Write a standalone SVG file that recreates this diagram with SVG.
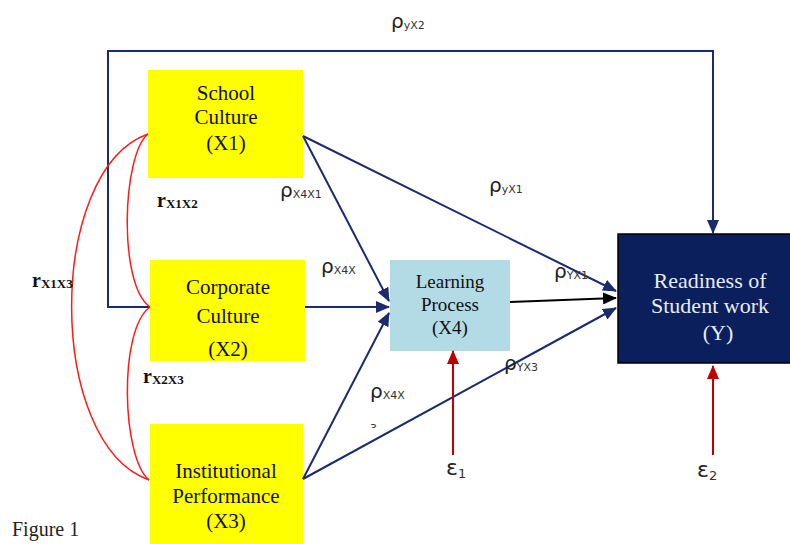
<svg xmlns="http://www.w3.org/2000/svg" width="790" height="544" viewBox="0 0 790 544">
<style>
.box{font-family:"Liberation Serif","Times New Roman",serif;font-size:21px;fill:#111;text-anchor:middle}
.yt{font-family:"Liberation Serif","Times New Roman",serif;font-size:22px;fill:#e8ecf4;text-anchor:middle}
.rho{font-family:"DejaVu Sans",Verdana,sans-serif;font-size:20px;fill:#222}
.sub{font-family:"DejaVu Sans",Verdana,sans-serif;font-size:11px;fill:#333}
.rl{font-family:"Liberation Serif","Times New Roman",serif;font-size:20px;font-weight:bold;fill:#111}
.rs{font-family:"Liberation Serif","Times New Roman",serif;font-size:13px;font-weight:bold;fill:#111}
.blue{stroke:#1b2c6e;stroke-width:2;fill:none}
.red{stroke:#ff1a1a;stroke-width:1.5;fill:none}
.err{stroke:#c00000;stroke-width:2;fill:none}
</style>
<defs>
<marker id="ab" markerWidth="14" markerHeight="12" refX="13" refY="6" orient="auto" markerUnits="userSpaceOnUse"><path d="M0,0 L14,6 L0,12 z" fill="#1b2c6e"/></marker>
<marker id="ak" markerWidth="14" markerHeight="12" refX="13" refY="6" orient="auto" markerUnits="userSpaceOnUse"><path d="M0,0 L14,6 L0,12 z" fill="#000"/></marker>
<marker id="ar" markerWidth="14" markerHeight="12" refX="13" refY="6" orient="auto" markerUnits="userSpaceOnUse"><path d="M0,0 L14,6 L0,12 z" fill="#c00000"/></marker>
<clipPath id="cx2"><rect x="150" y="260" width="155" height="101"/></clipPath>
<clipPath id="c2"><rect x="310" y="280" width="30" height="18"/></clipPath>
<clipPath id="c3"><rect x="360" y="405" width="30" height="23"/></clipPath>
</defs>
<rect width="790" height="544" fill="#fff"/>

<g id="X1">
<rect x="148" y="70" width="155" height="108" fill="#ffff00"/>
<text class="box" x="226" y="100">School</text>
<text class="box" x="226" y="124">Culture</text>
<text class="box" x="226" y="150">(X1)</text>
</g>
<g id="X2">
<rect x="150" y="260" width="155" height="101" fill="#ffff00"/>
<text class="box" x="228" y="294">Corporate</text>
<text class="box" x="228" y="323">Culture</text>
<text class="box" x="228" y="356" clip-path="url(#cx2)">(X2)</text>
</g>
<g id="X3">
<rect x="150" y="424" width="153" height="120" fill="#ffff00"/>
<text class="box" x="226" y="478">Institutional</text>
<text class="box" x="226" y="503">Performance</text>
<text class="box" x="226" y="528">(X3)</text>
</g>
<g id="X4">
<rect x="390" y="260" width="120" height="91" fill="#b3dbe6"/>
<text class="box" x="450" y="288" style="font-size:19px">Learning</text>
<text class="box" x="450" y="311" style="font-size:19px">Process</text>
<text class="box" x="450" y="334" style="font-size:19px">(X4)</text>
</g>
<g id="Y">
<rect x="618" y="234" width="175" height="129" fill="#0a1f5c" stroke="#000" stroke-width="1.5"/>
<text class="yt" x="710" y="288">Readiness of</text>
<text class="yt" x="710" y="313">Student work</text>
<text class="yt" x="718" y="340">(Y)</text>
</g>

<g id="connectors">
<path class="blue" d="M150,307 L108,307 L108,51 L713,51 L713,233" marker-end="url(#ab)"/>
<path class="blue" d="M303,136 L389,301" marker-end="url(#ab)"/>
<path class="blue" d="M303,136 L616,291" marker-end="url(#ab)"/>
<path class="blue" d="M305,307 L389,307" marker-end="url(#ab)"/>
<path class="blue" d="M303,479 L389,313" marker-end="url(#ab)"/>
<path class="blue" d="M303,479 L616,308" marker-end="url(#ab)"/>
<path d="M510,302 L616,298" stroke="#000" stroke-width="2" fill="none" marker-end="url(#ak)"/>
<path class="err" d="M453,455 L453,351" marker-end="url(#ar)"/>
<path class="err" d="M713,455 L713,366" marker-end="url(#ar)"/>
<path class="red" d="M148,134 C122,155 118,285 150,307"/>
<path class="red" d="M150,307 C118,330 122,458 149,480"/>
<path class="red" d="M148,134 C46,170 46,444 149,480"/>
</g>

<g id="labels">
<text class="rho" x="391" y="28">ρ<tspan class="sub" dy="1">yX2</tspan></text>
<text class="rho" x="489" y="192">ρ<tspan class="sub" dy="1">yX1</tspan></text>
<text class="rho" x="280" y="197">ρ<tspan class="sub" dy="1">X4X1</tspan></text>
<text class="rho" x="321" y="273">ρ<tspan class="sub" dy="1">X4X</tspan></text>
<text class="sub" x="322" y="306" clip-path="url(#c2)">2</text>
<text class="rho" x="370" y="398">ρ<tspan class="sub" dy="1">X4X</tspan></text>
<text class="sub" x="370" y="432" clip-path="url(#c3)">3</text>
<text class="rho" x="554" y="278">ρ<tspan class="sub" dy="1">YX1</tspan></text>
<text class="rho" x="504" y="370">ρ<tspan class="sub" dy="1">YX3</tspan></text>
<text class="rho" x="446" y="475" style="font-size:22px">ε<tspan class="sub" dy="3" style="font-size:13px">1</tspan></text>
<text class="rho" x="697" y="477" style="font-size:22px">ε<tspan class="sub" dy="3" style="font-size:13px">2</tspan></text>
<text class="rl" x="157" y="207">r<tspan class="rs" dy="1">X1X2</tspan></text>
<text class="rl" x="32" y="287">r<tspan class="rs" dy="1">X1X3</tspan></text>
<text class="rl" x="143" y="383">r<tspan class="rs" dy="1">X2X3</tspan></text>
<text x="12" y="536" style="font-family:'Liberation Serif','Times New Roman',serif;font-size:20px;fill:#222">Figure 1</text>
</g>
</svg>
